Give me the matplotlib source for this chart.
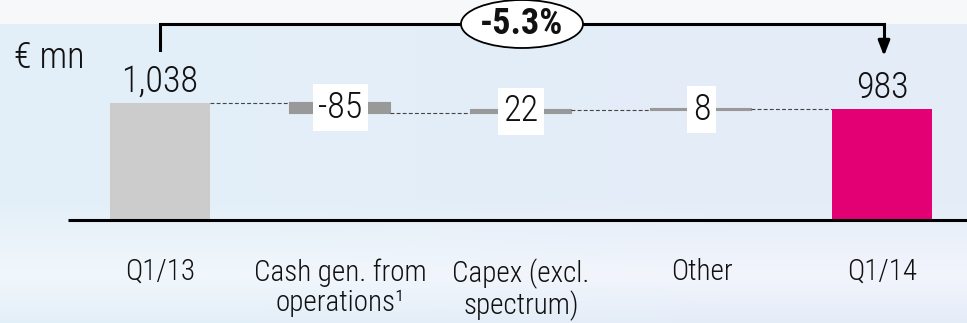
import numpy as np
import matplotlib
matplotlib.use("Agg")
import matplotlib.pyplot as plt
from matplotlib.patches import Ellipse
from matplotlib import font_manager as fm

names = {f.name for f in fm.fontManager.ttflist}
cands = ['Roboto Condensed', 'Liberation Sans Narrow', 'Open Sans Condensed', 'DejaVu Sans Condensed', 'Roboto']
main_font = next((c for c in cands if c in names), 'DejaVu Sans')
plt.rcParams['font.family'] = [main_font, 'DejaVu Sans']

# ---- data ----
categories = ["Q1/13", "Cash gen. from\noperations\u00b9", "Capex (excl.\nspectrum)", "Other", "Q1/14"]
start_value = 1038
changes = [-85, 22, 8]
end_value = 983
value_labels = ["1,038", "-85", "22", "8", "983"]
change_pct = "-5.3%"
unit_label = "\u20ac mn"

W, H = 967, 323
fig = plt.figure(figsize=(W / 100, H / 100), dpi=100)

# background gradient
bg = fig.add_axes([0, 0, 1, 1])
bg.set_axis_off()
top = np.array([0.969, 0.976, 0.984])
blue = np.array([0.890, 0.937, 0.973])
light = np.array([0.945, 0.969, 0.988])
img = np.zeros((323, 2, 3))
for i in range(323):
    py = i
    if py < 24:
        c = top
    elif py < 200:
        c = blue
    elif py < 275:
        t = (py - 200) / 75
        c = blue * (1 - t) + light * t
    else:
        t = (py - 275) / 48
        c = light * (1 - t) + blue * t
    img[i, 0] = c
    img[i, 1] = c if py < 24 else c + np.array([0.005, -0.01, 0.0])
bg.imshow(np.clip(img, 0, 1), aspect='auto', extent=[0, 1, 0, 1], interpolation='bilinear')
bg.set_xlim(0, 1)
bg.set_ylim(0, 1)

# main axes in pixel-calibrated data coordinates
ax = fig.add_axes([0, 0, 1, 1])
ax.set_axis_off()
ax.patch.set_alpha(0)
xs = 180.5  # px per category
x0 = 160
ys = 117 / 1038.0
y0 = H - 220
ax.set_xlim(-x0 / xs, (W - x0) / xs)
ax.set_ylim(-y0 / ys, (H - y0) / ys)

def py2d(p):
    return (H - p - y0) / ys

xpos = np.arange(len(categories))
bw = 100 / xs
txt = '#111111'
vfs = 26
fw = 'light'

# endpoint bars
ax.bar(xpos[0], start_value, width=bw, color='#cccccc', zorder=2)
ax.bar(xpos[-1], end_value, width=bw, color='#e20074', zorder=2)

# floating bars + connectors
level = start_value
prev_right = xpos[0] + bw / 2
for i, ch in enumerate(changes):
    x = xpos[i + 1]
    new = level + ch
    ax.plot([prev_right, x - bw / 2], [level, level], ls=(0, (3.5, 2)), color='#444444', lw=0.8, zorder=2)
    ax.bar(x, ch, bottom=level, width=bw, color='#999999', edgecolor='#999999', linewidth=1.5, zorder=2)
    ax.text(x, (level + new) / 2, value_labels[i + 1], ha='center', va='center', fontsize=vfs,
            color=txt, zorder=4, fontweight=fw,
            bbox=dict(boxstyle='square,pad=0.15', fc='white', ec='none'))
    level = new
    prev_right = x + bw / 2
ax.plot([prev_right, xpos[-1] - bw / 2], [level, level], ls=(0, (3.5, 2)), color='#444444', lw=0.8, zorder=2)

# end labels
ax.annotate(value_labels[0], (xpos[0], start_value), xytext=(0, 8), textcoords='offset points',
            ha='center', va='baseline', fontsize=vfs, color=txt, fontweight=fw)
ax.annotate(value_labels[-1], (xpos[-1], end_value), xytext=(0, 8), textcoords='offset points',
            ha='center', va='baseline', fontsize=vfs, color=txt, fontweight=fw)

# baseline
ax.plot([-(x0 - 68) / xs, (W - x0) / xs], [0, 0], color='black', lw=2.2, zorder=3, solid_capstyle='butt')

# category labels
for x, c in zip(xpos, categories):
    ax.text(x, py2d(258), c, ha='center', va='top', fontsize=21, color=txt, linespacing=1.1,
            fontweight=fw)

# unit label
ax.text(-(x0 - 14) / xs, py2d(68), unit_label, ha='left', va='baseline', fontsize=26, color=txt,
        fontweight=fw)

# bracket with arrow
yb = py2d(24)
xr = xpos[-1] + 2 / xs
ax.plot([xpos[0], xpos[0], xr, xr], [py2d(50), yb, yb, py2d(42)],
        color='black', lw=2.2, zorder=3, solid_joinstyle='miter')
ax.annotate('', xy=(xr, py2d(56)), xytext=(xr, py2d(40)),
            arrowprops=dict(arrowstyle='-|>,head_width=0.35,head_length=0.9', color='black', lw=2.2,
                            shrinkA=0, shrinkB=0), zorder=3)
ecx = (522 - x0) / xs
ell = Ellipse((ecx, yb), width=122 / xs, height=48 / ys, fc='white', ec='black', lw=1.3, zorder=4)
ax.add_patch(ell)
ax.text(ecx, yb, change_pct, ha='center', va='center', fontsize=26, fontweight='bold', color=txt, zorder=5)

fig.savefig('out.png', dpi=100)
